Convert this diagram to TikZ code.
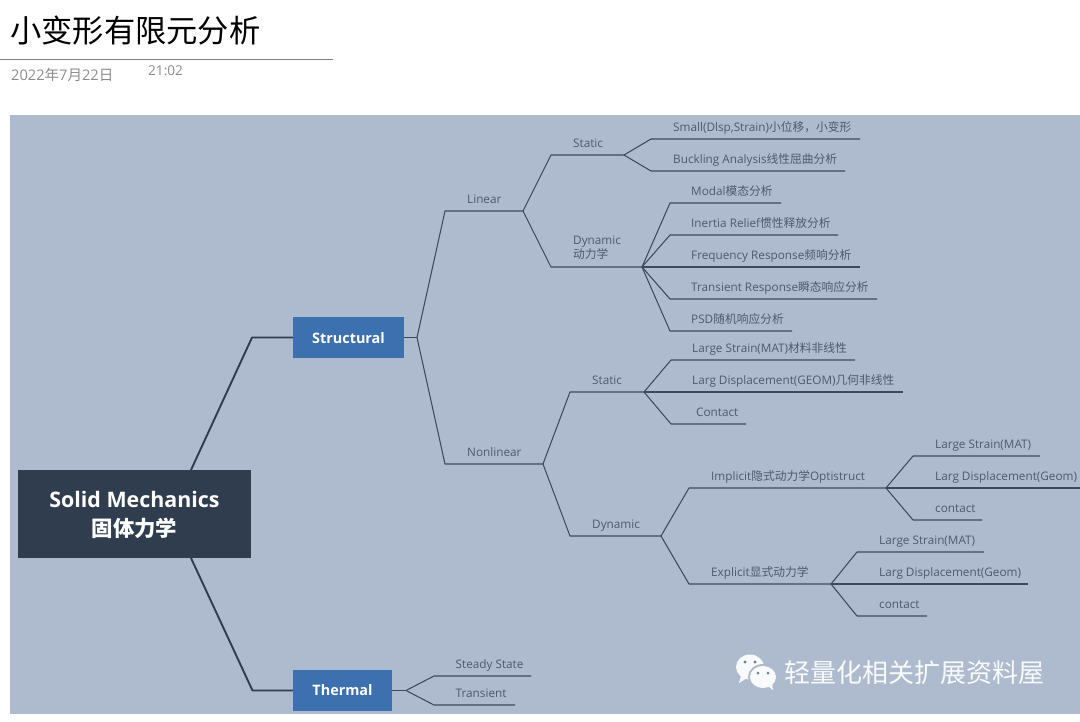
\documentclass[tikz,border=0pt]{standalone}
\usepackage{fontspec}
\setmainfont{Open Sans}
\newfontfamily\cjk{Noto Sans CJK SC}
\definecolor{panelbg}{HTML}{AEBBCE}
\definecolor{rootbg}{HTML}{2F3D4E}
\definecolor{mainbg}{HTML}{3D70AE}
\definecolor{twigcol}{HTML}{3C4A5C}
\definecolor{labcol}{HTML}{4C5A6D}
\definecolor{greytxt}{HTML}{8C8C8C}
\begin{document}
\begin{tikzpicture}[
      x=1pt, y=-1pt,
      root/.style={fill=rootbg, text=white, minimum width=233pt, minimum height=88pt,
                   inner sep=0pt, align=center, font=\fontsize{21.4}{29}\selectfont\bfseries},
      mainb/.style={fill=mainbg, text=white, minimum height=41pt, inner sep=0pt,
                    font=\fontsize{14.4}{16}\selectfont\bfseries},
      lab/.style={anchor=base west, inner sep=0pt, yshift=1pt, text=labcol,
                  font=\fontsize{11.75}{14}\selectfont},
      bough/.style={draw=rootbg, line width=1.9pt, line join=round},
      twig/.style={draw=twigcol, line width=1.05pt, line join=round}
  ]
    \useasboundingbox (0,0) rectangle (1080,721);
    % page head
    \node[anchor=west, inner sep=0pt, font=\fontsize{31.3}{36}\selectfont\cjk] (title) at (10,31) {小变形有限元分析};
    \coordinate (ruleL) at (0,59); \coordinate (ruleR) at (333,59);
    \draw[draw=black!50, line width=0.8pt] (ruleL)--(ruleR);
    \node[anchor=west, inner sep=0pt, text=greytxt, font=\fontsize{14.6}{16}\selectfont] (date) at (11,75) {2022{\cjk 年}7{\cjk 月}22{\cjk 日}};
    \node[anchor=west, inner sep=0pt, text=greytxt, font=\fontsize{13.6}{16}\selectfont] (time) at (148,71) {21:02};
    \fill[panelbg] (10,115) rectangle (1080,714);

    % central topic
    \node[root] (sm) at (134.5,514) {\rule{0pt}{18pt}Solid Mechanics\\ {\cjk 固体力学}};
    \node[mainb, minimum width=111pt] (str) at (348.5,337.5) {\rule{0pt}{12pt}Structural};
    \node[mainb, minimum width=99pt] (the) at (342.5,690.5) {Thermal};
    \coordinate (smT) at (191,470); \coordinate (smB) at (191,558);
    \coordinate (strK) at (252,337.5); \coordinate (theK) at (252.5,690.5);
    \draw[bough] (smT)--(strK)--(str.west);
    \draw[bough] (smB)--(theK)--(the.west);

    % Structural
    \coordinate (strJ) at (417,337.5);
    \draw[twig] (str.east)--(strJ);
    \coordinate (linA) at (445,211); \coordinate (linB) at (523,211);
    \node[lab] (lin) at (467,204) {Linear};
    \draw[twig] (strJ)--(linA)--(linB);
    \coordinate (nonA) at (445,464); \coordinate (nonB) at (543,464);
    \node[lab] (non) at (467,457) {Nonlinear};
    \draw[twig] (strJ)--(nonA)--(nonB);

    % Linear
    \coordinate (lsA) at (551,155); \coordinate (lsB) at (624,155);
    \node[lab] (ls) at (573,148) {Static};
    \draw[twig] (linB)--(lsA)--(lsB);
    \coordinate (ldA) at (551,267); \coordinate (ldB) at (642,267);
    \node[lab, anchor=west, align=left] (ld) at (573,249) {Dynamic\\ {\cjk 动力学}};
    \draw[twig] (linB)--(ldA)--(ldB);

    \coordinate (ls1A) at (651,139); \coordinate (ls1B) at (860,139);
    \node[lab] (ls1) at (673,132) {Small(Dlsp,Strain){\cjk 小位移，小变形}};
    \draw[twig] (lsB)--(ls1A)--(ls1B);
    \coordinate (ls2A) at (651,171); \coordinate (ls2B) at (845,171);
    \node[lab] (ls2) at (673,164) {Buckling Analysis{\cjk 线性屈曲分析}};
    \draw[twig] (lsB)--(ls2A)--(ls2B);

    \coordinate (ld1A) at (670,203); \coordinate (ld1B) at (781,203);
    \node[lab] (ld1) at (691,196) {Modal{\cjk 模态分析}};
    \draw[twig] (ldB)--(ld1A)--(ld1B);
    \coordinate (ld2A) at (670,235); \coordinate (ld2B) at (838,235);
    \node[lab] (ld2) at (691,228) {Inertia Relief{\cjk 惯性释放分析}};
    \draw[twig] (ldB)--(ld2A)--(ld2B);
    \coordinate (ld3A) at (670,267); \coordinate (ld3B) at (860,267);
    \node[lab] (ld3) at (691,260) {Frequency Response{\cjk 频响分析}};
    \draw[twig] (ldB)--(ld3A)--(ld3B);
    \coordinate (ld4A) at (670,299); \coordinate (ld4B) at (877,299);
    \node[lab] (ld4) at (691,292) {Transient Response{\cjk 瞬态响应分析}};
    \draw[twig] (ldB)--(ld4A)--(ld4B);
    \coordinate (ld5A) at (670,331); \coordinate (ld5B) at (792,331);
    \node[lab] (ld5) at (691,324) {PSD{\cjk 随机响应分析}};
    \draw[twig] (ldB)--(ld5A)--(ld5B);

    % Nonlinear
    \coordinate (nsA) at (570,392); \coordinate (nsB) at (644,392);
    \node[lab] (ns) at (592,385) {Static};
    \draw[twig] (nonB)--(nsA)--(nsB);
    \coordinate (ndA) at (570,536); \coordinate (ndB) at (661,536);
    \node[lab] (nd) at (592,529) {Dynamic};
    \draw[twig] (nonB)--(ndA)--(ndB);

    \coordinate (ns1A) at (671,360); \coordinate (ns1B) at (855,360);
    \node[lab] (ns1) at (692,353) {Large Strain(MAT){\cjk 材料非线性}};
    \draw[twig] (nsB)--(ns1A)--(ns1B);
    \coordinate (ns2A) at (671,392); \coordinate (ns2B) at (903,392);
    \node[lab] (ns2) at (692,385) {Larg Displacement(GEOM){\cjk 几何非线性}};
    \draw[twig] (nsB)--(ns2A)--(ns2B);
    \coordinate (ns3A) at (671,424); \coordinate (ns3B) at (746,424);
    \node[lab] (ns3) at (696,417) {Contact};
    \draw[twig] (nsB)--(ns3A)--(ns3B);

    \coordinate (imA) at (689,488); \coordinate (imB) at (886,488);
    \node[lab] (im) at (711,481) {Implicit{\cjk 隐式动力学}Optistruct};
    \draw[twig] (ndB)--(imA)--(imB);
    \coordinate (exA) at (689,584); \coordinate (exB) at (831,584);
    \node[lab] (ex) at (711,577) {Explicit{\cjk 显式动力学}};
    \draw[twig] (ndB)--(exA)--(exB);

    \coordinate (im1A) at (913,456); \coordinate (im1B) at (1040,456);
    \node[lab] (im1) at (935,449) {Large Strain(MAT)};
    \draw[twig] (imB)--(im1A)--(im1B);
    \coordinate (im2A) at (913,488); \coordinate (im2B) at (1080,488);
    \node[lab] (im2) at (935,481) {Larg Displacement(Geom)};
    \draw[twig] (imB)--(im2A)--(im2B);
    \coordinate (im3A) at (913,520); \coordinate (im3B) at (982,520);
    \node[lab] (im3) at (935,513) {contact};
    \draw[twig] (imB)--(im3A)--(im3B);

    \coordinate (ex1A) at (857,552); \coordinate (ex1B) at (984,552);
    \node[lab] (ex1) at (879,545) {Large Strain(MAT)};
    \draw[twig] (exB)--(ex1A)--(ex1B);
    \coordinate (ex2A) at (857,584); \coordinate (ex2B) at (1028,584);
    \node[lab] (ex2) at (879,577) {Larg Displacement(Geom)};
    \draw[twig] (exB)--(ex2A)--(ex2B);
    \coordinate (ex3A) at (857,616); \coordinate (ex3B) at (927,616);
    \node[lab] (ex3) at (879,609) {contact};
    \draw[twig] (exB)--(ex3A)--(ex3B);

    % Thermal
    \coordinate (theJ) at (406,690.5);
    \draw[twig] (the.east)--(theJ);
    \coordinate (th1A) at (434,676); \coordinate (th1B) at (531,676);
    \node[lab] (th1) at (455.5,669) {Steady State};
    \draw[twig] (theJ)--(th1A)--(th1B);
    \coordinate (th2A) at (434,705); \coordinate (th2B) at (515,705);
    \node[lab] (th2) at (455.5,698) {Transient};
    \draw[twig] (theJ)--(th2A)--(th2B);

    % watermark
    \fill[white!92!panelbg] (750,667) ellipse (14 and 12.5);
    \fill[white!92!panelbg] (741,676)--(739,683)--(747,678)--cycle;
    \fill[panelbg] (763,677) ellipse (15 and 13);
    \fill[white!92!panelbg] (763,677) ellipse (13 and 11);
    \fill[white!92!panelbg] (768,686)--(773,690)--(772,683)--cycle;
    \fill[twigcol!55!panelbg] (745,662) circle (1.7) (755,662) circle (1.7) (758,673) circle (1.5) (768,673) circle (1.5);
    \node[anchor=west, inner sep=0pt, text=white!92!panelbg, font=\fontsize{26}{30}\selectfont\cjk] (mark) at (784,673) {轻量化相关扩展资料屋};
  \end{tikzpicture}
\end{document}
